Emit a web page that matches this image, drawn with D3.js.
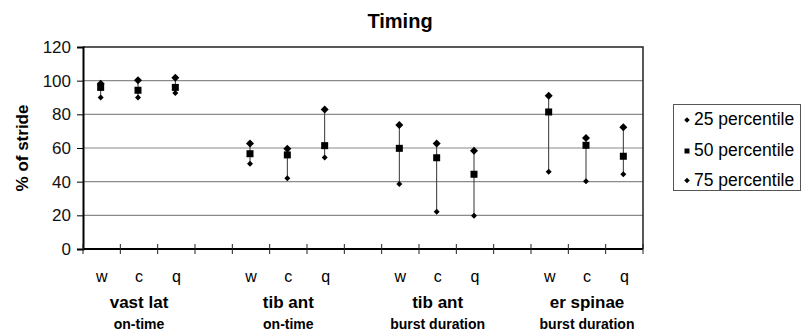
<!DOCTYPE html>
<meta charset="utf-8">
<script src="https://d3js.org/d3.v7.min.js"></script>
<style>
  body { margin: 0; background: #fff; }
  text { font-family: "Liberation Sans", Arial, sans-serif; }
</style>
<svg id="chart" width="801" height="332"></svg>
<script>
// muscles / measures, three conditions each
var groups = ["vast lat", "tib ant", "tib ant", "er spinae"];
var subtitles = ["on-time", "on-time", "burst duration", "burst duration"];
var conditions = ["w", "c", "q"];

// % of stride, in order group by group (w, c, q)
var p25 = [90, 90, 92.7, 50.7, 42, 54.3, 38.6, 22.2, 19.8, 45.9, 40.2, 44.4];
var p50 = [96, 94.3, 96, 56.6, 55.9, 61.4, 59.8, 54.2, 44.4, 81.4, 61.6, 55.1];
var p75 = [98.2, 100.2, 101.8, 62.6, 59.6, 82.8, 73.7, 62.6, 58.4, 91.1, 66, 72.3];

var yTicks = [0, 20, 40, 60, 80, 100, 120];
var legendLabels = ["25 percentile", "50 percentile", "75 percentile"];

var svg = d3.select("#chart");
var plotLeft = 83, plotRight = 643, plotTop = 47, plotBottom = 249;

// category slots: 3 conditions per group with a blank slot between groups
var slots = [];
groups.forEach(function(g, gi) {
  conditions.forEach(function(c) { slots.push(gi + "-" + c); });
  if (gi < groups.length - 1) slots.push("gap" + gi);
});

var x = d3.scaleBand().domain(slots).range([plotLeft, plotRight]).padding(0);
var y = d3.scaleLinear().domain([0, 120]).range([plotBottom, plotTop]);

var data = [];
groups.forEach(function(g, gi) {
  conditions.forEach(function(c, ci) {
    var i = gi * 3 + ci;
    data.push({ key: gi + "-" + c, cond: c, lo: p25[i], mid: p50[i], hi: p75[i] });
  });
});

// gridlines
svg.append("g")
  .selectAll("line")
  .data(yTicks.filter(function(d) { return d > 0 && d < 120; }))
  .enter().append("line")
    .attr("x1", plotLeft).attr("x2", plotRight)
    .attr("y1", function(d) { return y(d); })
    .attr("y2", function(d) { return y(d); })
    .attr("stroke", "#8a8a8a").attr("stroke-width", 1.2);

// frame top/right
svg.append("path")
  .attr("d", "M" + plotLeft + "," + y(120) + "H" + plotRight + "V" + plotBottom)
  .attr("fill", "none").attr("stroke", "#222").attr("stroke-width", 1.5);

// y axis
var yAxis = svg.append("g")
  .attr("transform", "translate(" + plotLeft + ",0)")
  .call(d3.axisLeft(y).tickValues(yTicks).tickSize(6).tickPadding(6));
yAxis.select(".domain").attr("stroke", "#000").attr("stroke-width", 2);
yAxis.selectAll("line").attr("stroke", "#000");
yAxis.selectAll("text").style("font-size", "17px").attr("fill", "#111")
  .style("font-family", "Liberation Sans, Arial, sans-serif");

// x axis: ticks at slot boundaries, crossing the axis line
svg.append("line")
  .attr("x1", plotLeft).attr("x2", plotRight)
  .attr("y1", plotBottom).attr("y2", plotBottom)
  .attr("stroke", "#000").attr("stroke-width", 2);
var bounds = slots.map(function(s) { return x(s); }).concat([plotRight]);
svg.append("g")
  .selectAll("line")
  .data(bounds)
  .enter().append("line")
    .attr("x1", function(d) { return d; }).attr("x2", function(d) { return d; })
    .attr("y1", plotBottom - 5).attr("y2", plotBottom + 5)
    .attr("stroke", "#222").attr("stroke-width", 1);

// condition labels
svg.append("g")
  .selectAll("text")
  .data(data)
  .enter().append("text")
    .attr("x", function(d) { return x(d.key) + x.bandwidth() / 2; })
    .attr("y", 282)
    .attr("text-anchor", "middle")
    .style("font-size", "16px")
    .text(function(d) { return d.cond; });

// group labels
svg.append("g")
  .selectAll("text")
  .data(groups)
  .enter().append("text")
    .attr("x", function(d, i) { return x(i + "-c") + x.bandwidth() / 2; })
    .attr("y", 308)
    .attr("text-anchor", "middle")
    .style("font-size", "17px").style("font-weight", "bold")
    .text(function(d) { return d; });

svg.append("g")
  .selectAll("text")
  .data(subtitles)
  .enter().append("text")
    .attr("x", function(d, i) { return x(i + "-c") + x.bandwidth() / 2; })
    .attr("y", 329)
    .attr("text-anchor", "middle")
    .style("font-size", "14px").style("font-weight", "bold")
    .text(function(d) { return d; });

// high-low lines
var cx = function(d) { return x(d.key) + x.bandwidth() / 2 - 1; };
svg.append("g")
  .selectAll("line")
  .data(data)
  .enter().append("line")
    .attr("x1", cx).attr("x2", cx)
    .attr("y1", function(d) { return y(d.lo); })
    .attr("y2", function(d) { return y(d.hi); })
    .attr("stroke", "#333").attr("stroke-width", 1);

var diamond = function(s) { return "M0," + (-s) + "L" + s + ",0L0," + s + "L" + (-s) + ",0Z"; };

svg.append("g").selectAll("path")
  .data(data).enter().append("path")
    .attr("d", diamond(3))
    .attr("transform", function(d) { return "translate(" + cx(d) + "," + y(d.lo) + ")"; })
    .attr("fill", "#000");

svg.append("g").selectAll("rect")
  .data(data).enter().append("rect")
    .attr("x", function(d) { return cx(d) - 3.5; })
    .attr("y", function(d) { return y(d.mid) - 3.5; })
    .attr("width", 7).attr("height", 7)
    .attr("fill", "#000");

svg.append("g").selectAll("path")
  .data(data).enter().append("path")
    .attr("d", diamond(4))
    .attr("transform", function(d) { return "translate(" + cx(d) + "," + y(d.hi) + ")"; })
    .attr("fill", "#000");

// title
svg.append("text")
  .attr("x", 400).attr("y", 28)
  .attr("text-anchor", "middle")
  .style("font-size", "20px").style("font-weight", "bold")
  .text("Timing");

// y title
svg.append("text")
  .attr("transform", "translate(28,148) rotate(-90)")
  .attr("text-anchor", "middle")
  .style("font-size", "17px").style("font-weight", "bold")
  .text("% of stride");

// legend
var lg = svg.append("g");
lg.append("rect")
  .attr("x", 673.5).attr("y", 104.5).attr("width", 127).attr("height", 86)
  .attr("fill", "#fff").attr("stroke", "#555").attr("stroke-width", 1);
var rowY = [119, 150, 179.5];
lg.selectAll("text")
  .data(legendLabels)
  .enter().append("text")
    .attr("x", 694)
    .attr("y", function(d, i) { return rowY[i]; })
    .attr("dy", "0.35em")
    .style("font-size", "17.5px")
    .text(function(d) { return d; });
lg.selectAll(".mk")
  .data(legendLabels)
  .enter().append("path")
    .attr("class", "mk")
    .attr("d", function(d, i) { return i === 1 ? "M-2.5,-2.5h5v5h-5Z" : diamond(2.8); })
    .attr("transform", function(d, i) { return "translate(687," + (rowY[i] + 1) + ")"; })
    .attr("fill", "#000");
</script>
